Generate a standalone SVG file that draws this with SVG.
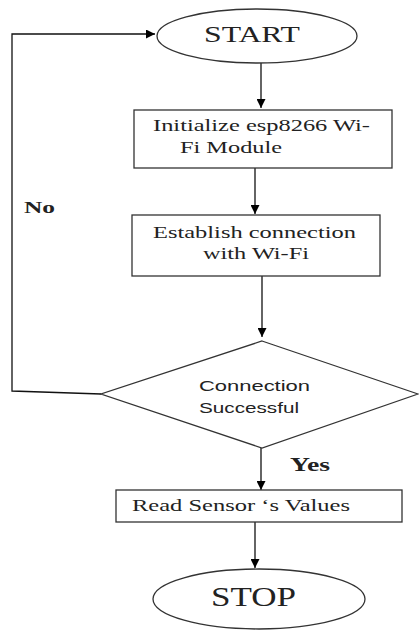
<svg xmlns="http://www.w3.org/2000/svg" width="419" height="630" viewBox="0 0 419 630">
<defs>
<marker id="ah" viewBox="0 0 10 10" refX="10" refY="5" markerWidth="9" markerHeight="9" markerUnits="userSpaceOnUse" orient="auto">
<path d="M0,0 L10,5 L0,10 z" fill="#000"/>
</marker>
</defs>
<style>
.shape{fill:#fff;stroke:#333;stroke-width:1.3}
.serif{font-family:"Liberation Serif","Times New Roman",serif;fill:#222}
.sans{font-family:"Liberation Sans",Arial,sans-serif;fill:#222}
.conn{fill:none;stroke:#111;stroke-width:1.3}
</style>
<rect width="419" height="630" fill="#fff"/>
<g id="connectors">
<line class="conn" x1="261" y1="63" x2="261" y2="108" marker-end="url(#ah)"/>
<line class="conn" x1="255" y1="168" x2="255" y2="214" marker-end="url(#ah)"/>
<line class="conn" x1="262" y1="276" x2="262" y2="337" marker-end="url(#ah)"/>
<line class="conn" x1="261" y1="448" x2="261" y2="490" marker-end="url(#ah)"/>
<line class="conn" x1="255" y1="522" x2="255" y2="568" marker-end="url(#ah)"/>
<polyline class="conn" points="101,394 12,391 12,34 155,34" marker-end="url(#ah)"/>
<text class="serif" x="24" y="213" font-size="17" font-weight="bold" textLength="31" lengthAdjust="spacingAndGlyphs">No</text>
<text class="serif" x="290" y="471" font-size="18" font-weight="bold" textLength="40" lengthAdjust="spacingAndGlyphs">Yes</text>
</g>
<g id="start">
<ellipse class="shape" cx="257" cy="36" rx="100" ry="27"/>
<text class="serif" x="204" y="42" font-size="23" textLength="96" lengthAdjust="spacingAndGlyphs">START</text>
</g>
<g id="init">
<rect class="shape" x="134" y="110" width="258" height="58"/>
<text class="serif" x="153" y="131" font-size="17" textLength="217" lengthAdjust="spacingAndGlyphs">Initialize esp8266 Wi-</text>
<text class="serif" x="180" y="153" font-size="17" textLength="102" lengthAdjust="spacingAndGlyphs">Fi Module</text>
</g>
<g id="establish">
<rect class="shape" x="132" y="215" width="248" height="61"/>
<text class="serif" x="153" y="238" font-size="17" textLength="203" lengthAdjust="spacingAndGlyphs">Establish connection</text>
<text class="serif" x="203" y="259" font-size="17" textLength="106" lengthAdjust="spacingAndGlyphs">with Wi-Fi</text>
</g>
<g id="decision">
<polygon class="shape" points="262,341 418,394 262,448 101,394"/>
<text class="sans" x="199" y="391" font-size="15" textLength="111" lengthAdjust="spacingAndGlyphs">Connection</text>
<text class="sans" x="199" y="413" font-size="15" textLength="100" lengthAdjust="spacingAndGlyphs">Successful</text>
</g>
<g id="read">
<rect class="shape" x="116" y="490" width="286" height="32"/>
<text class="serif" x="132" y="511" font-size="17" textLength="218" lengthAdjust="spacingAndGlyphs">Read Sensor ‘s Values</text>
</g>
<g id="stop">
<ellipse class="shape" cx="259" cy="599" rx="106" ry="30"/>
<text class="serif" x="211" y="606" font-size="27" textLength="85" lengthAdjust="spacingAndGlyphs">STOP</text>
</g>
</svg>
